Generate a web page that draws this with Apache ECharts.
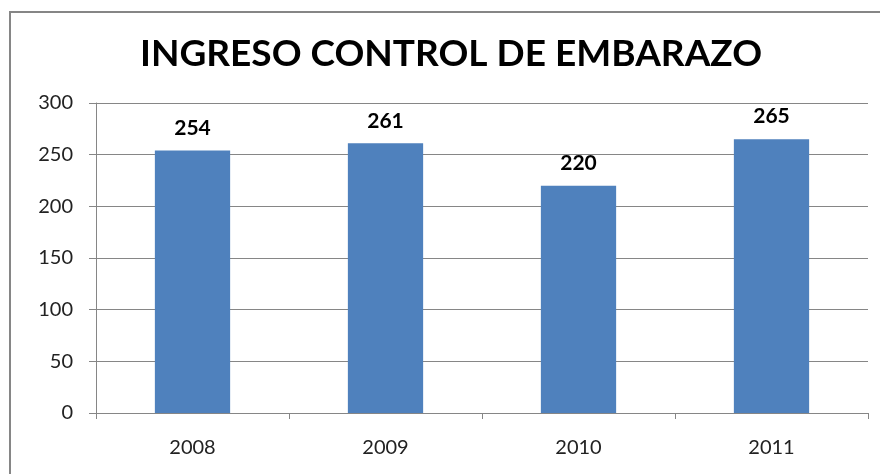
<!DOCTYPE html>
<html>
<head>
<meta charset="utf-8">
<script src="https://cdn.jsdelivr.net/npm/echarts@6/dist/echarts.min.js"></script>
<style>
  html, body { margin: 0; padding: 0; background: #fff; }
  #chart { width: 880px; height: 474px; }
</style>
</head>
<body>
<div id="chart"></div>
<script>
// datos del gráfico
const years = ['2008', '2009', '2010', '2011'];
const ingresos = [254, 261, 220, 265];
const yTicks = { min: 0, max: 300, step: 50 };

const chart = echarts.init(document.getElementById('chart'));

chart.setOption({
    animation: false,
    // marco del área del gráfico (solo se ven el borde izquierdo y superior)
    graphic: [{
        type: 'polyline',
        shape: { points: [[10, 480], [10, 12], [890, 12]] },
        style: { fill: null, stroke: '#868686', lineWidth: 2 }
    }],
    title: {
        text: 'INGRESO CONTROL DE EMBARAZO',
        left: 446,
        textAlign: 'center',
        top: 31,
        textStyle: { fontFamily: 'Lato', fontSize: 37, fontWeight: 'bold', color: '#000' }
    },
    grid: { left: 96, right: 12, top: 103, bottom: 61, containLabel: false },
    xAxis: {
        type: 'category',
        data: years,
        axisLine: { lineStyle: { color: '#868686', width: 1 } },
        axisTick: { show: true, length: 6, lineStyle: { color: '#868686' } },
        axisLabel: { margin: 25, fontFamily: 'Lato', fontSize: 20, color: '#222' }
    },
    yAxis: {
        type: 'value',
        min: yTicks.min,
        max: yTicks.max,
        interval: yTicks.step,
        axisLine: { show: true, lineStyle: { color: '#868686' } },
        axisTick: { show: true, length: 7, lineStyle: { color: '#868686' } },
        axisLabel: { margin: 23, fontFamily: 'Lato', fontSize: 20, color: '#222' },
        splitLine: { lineStyle: { color: '#868686', width: 1 } }
    },
    series: [{
        type: 'bar',
        data: ingresos,
        barWidth: '39%',
        itemStyle: { color: '#4F81BD' },
        label: {
            show: true,
            position: 'top',
            distance: 12,
            fontFamily: 'Lato',
            fontSize: 21,
            fontWeight: 'bold',
            color: '#000'
        }
    }]
});
</script>
</body>
</html>
